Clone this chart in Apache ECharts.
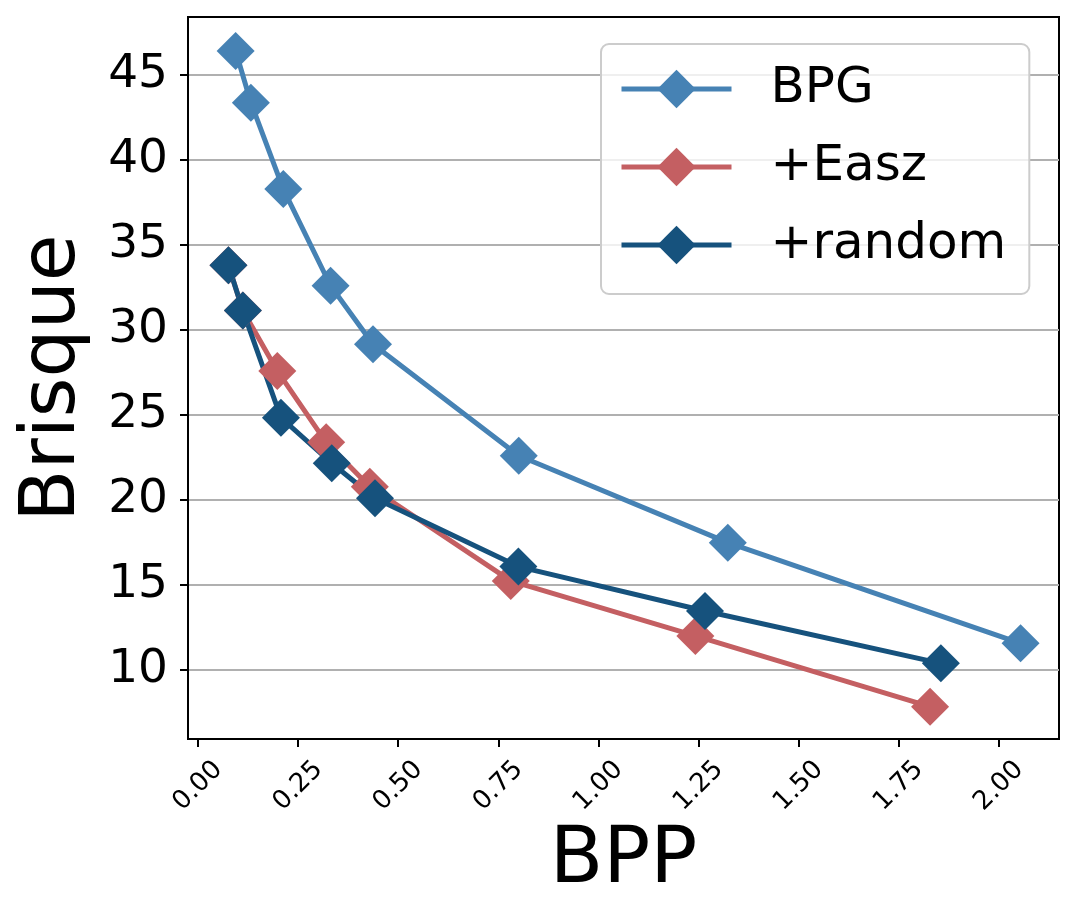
<!DOCTYPE html>
<html>
<head>
<meta charset="utf-8">
<script src="https://cdn.jsdelivr.net/npm/echarts@6.0.0/dist/echarts.min.js"></script>
<style>
  html, body { margin: 0; padding: 0; background: #fff; }
  #chartmain { width: 1079px; height: 921px; }
</style>
</head>
<body>
<div id="chartmain"></div>
<script>
// values
var bpgX = [0.094, 0.132, 0.213, 0.331, 0.437, 0.801, 1.323, 2.054];
var bpgY = [46.41, 43.37, 38.29, 32.60, 29.16, 22.60, 17.49, 11.57];

var easzX = [0.076, 0.112, 0.198, 0.320, 0.429, 0.781, 1.242, 1.828];
var easzY = [33.80, 31.14, 27.59, 23.39, 20.78, 15.24, 12.00, 7.84];

var randomX = [0.076, 0.112, 0.207, 0.334, 0.442, 0.800, 1.266, 1.855];
var randomY = [33.80, 31.14, 24.84, 22.16, 20.10, 16.08, 13.47, 10.39];

var xTicks = [0, 0.25, 0.5, 0.75, 1.0, 1.25, 1.5, 1.75, 2.0];
var yTicks = [10, 15, 20, 25, 30, 35, 40, 45];

var font = 'DejaVu Sans';

function pairs(xs, ys) {
    var out = [];
    for (var i = 0; i < xs.length; i++) {
        out.push([xs[i], ys[i]]);
    }
    return out;
}

function makeSeries(name, color, xs, ys) {
    return {
        name: name,
        type: 'line',
        data: pairs(xs, ys),
        symbol: 'diamond',
        symbolSize: 38,
        color: color,
        lineStyle: { width: 5, color: color },
        itemStyle: { color: color },
        emphasis: { disabled: true },
        animation: false
    };
}

var option = {
    backgroundColor: '#fff',
    grid: {
        left: 188, right: 20, top: 17, bottom: 182,
        show: true,
        borderColor: '#000',
        borderWidth: 2,
        backgroundColor: 'transparent'
    },
    legend: {
        orient: 'vertical',
        left: 601,
        top: 44,
        padding: [20, 23, 24, 18],
        itemWidth: 110,
        itemHeight: 48,
        itemGap: 28,
        backgroundColor: 'rgba(255,255,255,0.8)',
        borderColor: '#cccccc',
        borderWidth: 2,
        borderRadius: 8,
        lineStyle: { width: 5 },
        textStyle: {
            fontFamily: font,
            fontSize: 50,
            color: '#000',
            lineHeight: 48,
            padding: [0, 0, 0, 34]
        },
        data: ['BPG', '+Easz', '+random']
    },
    xAxis: {
        type: 'value',
        min: -0.025,
        max: 2.150,
        name: 'BPP',
        nameLocation: 'middle',
        nameGap: 84,
        nameTextStyle: { fontFamily: font, fontSize: 78, color: '#000' },
        axisLine: { show: true, onZero: false, lineStyle: { color: '#000', width: 2 } },
        axisTick: { show: true, length: 8, lineStyle: { color: '#000', width: 2 }, customValues: xTicks },
        axisLabel: {
            customValues: xTicks,
            rotate: 45,
            align: 'center',
            verticalAlign: 'middle',
            margin: 47,
            fontFamily: font,
            fontSize: 26,
            color: '#000',
            formatter: function (v) { return v.toFixed(2); }
        },
        splitLine: { show: false }
    },
    yAxis: {
        type: 'value',
        min: 5.94,
        max: 48.41,
        name: 'Brisque',
        nameLocation: 'middle',
        nameGap: 96,
        nameTextStyle: { fontFamily: font, fontSize: 76, color: '#000' },
        axisLine: { show: true, onZero: false, lineStyle: { color: '#000', width: 2 } },
        axisTick: { show: true, length: 8, lineStyle: { color: '#000', width: 2 }, customValues: yTicks },
        axisLabel: {
            customValues: yTicks,
            margin: 20,
            fontFamily: font,
            fontSize: 47,
            color: '#000'
        },
        splitLine: {
            show: true,
            customValues: yTicks,
            lineStyle: { color: '#b0b0b0', width: 2 }
        }
    },
    series: [
        makeSeries('BPG', '#4682b4', bpgX, bpgY),
        makeSeries('+Easz', '#c45f62', easzX, easzY),
        makeSeries('+random', '#16527d', randomX, randomY)
    ]
};

var myChart = echarts.init(document.getElementById('chartmain'));
myChart.setOption(option);
</script>
</body>
</html>
